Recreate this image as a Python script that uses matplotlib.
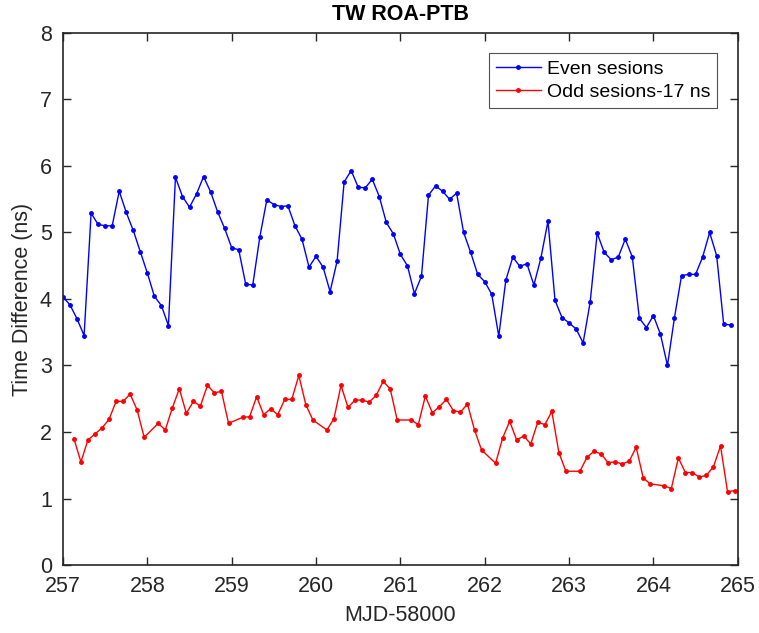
import numpy as np
import matplotlib
matplotlib.use("Agg")
import matplotlib.pyplot as plt

plt.rcParams['font.family'] = ['Liberation Sans', 'DejaVu Sans']

# sessions every 2 hours (12 per day), starting at MJD 58257
per_day = 12
start_mjd = 257

# Even sessions (ns)
even_vals = [
    4.03, 3.91, 3.70, 3.45, 5.29, 5.12, 5.10, 5.10, 5.62, 5.30, 5.03, 4.71,
    4.39, 4.04, 3.90, 3.60, 5.83, 5.54, 5.38, 5.58, 5.84, 5.61, 5.31, 5.06,
    4.77, 4.74, 4.22, 4.21, 4.93, 5.49, 5.42, 5.39, 5.40, 5.10, 4.90, 4.48,
    4.64, 4.48, 4.11, 4.57, 5.76, 5.93, 5.68, 5.67, 5.80, 5.54, 5.15, 4.98,
    4.67, 4.50, 4.08, 4.34, 5.56, 5.70, 5.62, 5.50, 5.59, 5.00, 4.70, 4.37,
    4.26, 4.07, 3.44, 4.28, 4.63, 4.49, 4.53, 4.21, 4.62, 5.17, 3.98, 3.72,
    3.64, 3.55, 3.34, 3.95, 4.99, 4.70, 4.59, 4.63, 4.90, 4.63, 3.71, 3.57,
    3.75, 3.47, 3.00, 3.72, 4.35, 4.37, 4.37, 4.63, 5.00, 4.65, 3.62, 3.61,
]

# Odd sessions minus 17 ns (None = no session)
odd_vals = [
    None, 1.90, 1.55, 1.88, 1.97, 2.06, 2.19, 2.46, 2.46, 2.57, 2.33, 1.92,
    None, 2.13, 2.03, 2.36, 2.65, 2.28, 2.46, 2.39, 2.70, 2.59, 2.61, 2.13,
    None, 2.22, 2.23, 2.53, 2.26, 2.35, 2.26, 2.49, 2.49, 2.85, 2.41, 2.18,
    None, 2.03, 2.20, 2.70, 2.37, 2.48, 2.48, 2.45, 2.55, 2.76, 2.65, 2.18,
    None, 2.18, 2.11, 2.54, 2.29, 2.38, 2.49, 2.32, 2.30, 2.42, 2.03, 1.73,
    None, 1.53, 1.91, 2.16, 1.88, 1.94, 1.82, 2.15, 2.11, 2.31, 1.69, 1.41,
    None, 1.41, 1.62, 1.71, 1.67, 1.54, 1.55, 1.52, 1.56, 1.77, 1.31, 1.22,
    None, 1.19, 1.15, 1.61, 1.39, 1.39, 1.32, 1.35, 1.48, 1.79, 1.10, 1.12,
]

even_x = start_mjd + np.arange(len(even_vals)) / per_day
odd_x_all = start_mjd + (np.arange(len(odd_vals)) + 0.55) / per_day
odd_x = [x for x, v in zip(odd_x_all, odd_vals) if v is not None]
odd_y = [v for v in odd_vals if v is not None]

fig = plt.figure(figsize=(7.59, 6.33), dpi=100)
ax = fig.add_axes([0.083, 0.1074, 0.889, 0.8406])

ax.plot(even_x, even_vals, '-', color='blue', lw=1, marker='.', ms=5, label='Even sesions')
ax.plot(odd_x, odd_y, '-', color='red', lw=1, marker='.', ms=5, label='Odd sesions-17 ns')

ax.set_xlim(257, 265)
ax.set_ylim(0, 8)
ax.set_xticks(range(257, 266))
ax.set_yticks(range(0, 9))

edge = '#262626'
for s in ax.spines.values():
    s.set_color(edge)
    s.set_linewidth(1.2)
ax.tick_params(direction='in', length=6, width=1, top=True, right=True,
               labelsize=15.5, colors=edge)
ax.tick_params(axis='x', pad=8)
ax.tick_params(axis='y', pad=8)

ax.set_xlabel('MJD-58000', fontsize=15.5, color=edge, labelpad=6)
ax.set_ylabel('Time Difference (ns)', fontsize=15.5, color=edge, labelpad=5)
ax.set_title('TW ROA-PTB', fontsize=15.5, fontweight='bold', pad=9)

leg = ax.legend(loc='upper right', bbox_to_anchor=(0.969, 0.962), fontsize=14,
                frameon=True, fancybox=False, edgecolor=edge, handlelength=2.3,
                borderpad=0.35, labelspacing=0.3, handletextpad=0.3, borderaxespad=0)
leg.get_frame().set_linewidth(0.8)

fig.savefig('out.png', dpi=100)
